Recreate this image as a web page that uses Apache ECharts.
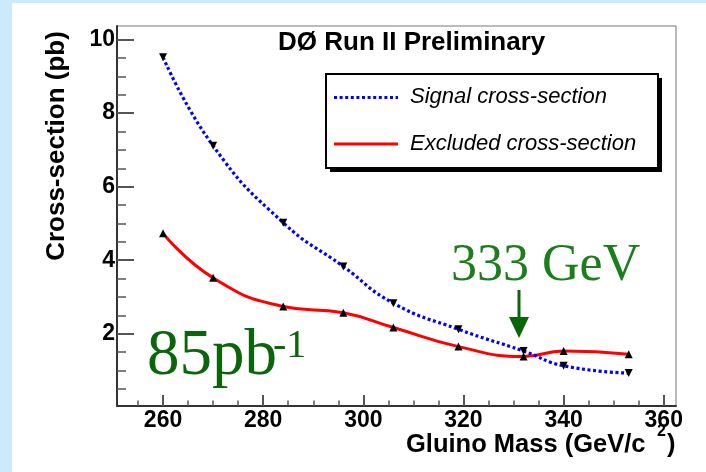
<!DOCTYPE html>
<html>
<head>
<meta charset="utf-8">
<script src="https://cdn.jsdelivr.net/npm/echarts@6/dist/echarts.min.js"></script>
<style>
  html, body { margin: 0; padding: 0; background: #ffffff; }
  #chart { width: 706px; height: 472px; }
</style>
</head>
<body>
<div id="chart"></div>
<script>
// Gluino mass points (GeV/c^2)
const massSignal = [260, 270, 284, 296, 306, 319, 332, 340, 353];
const massExcluded = [260, 270, 284, 296, 306, 319, 332, 340, 353];
// Cross-sections (pb)
const signalXsec = [9.52, 7.11, 5.02, 3.83, 2.83, 2.12, 1.53, 1.13, 0.93];
const excludedXsec = [4.73, 3.52, 2.74, 2.57, 2.17, 1.65, 1.38, 1.53, 1.44];

// Axis ticks
const xMajorTicks = [260, 280, 300, 320, 340, 360];
const xMinorTicks = [255, 265, 270, 275, 285, 290, 295, 305, 310, 315, 325, 330, 335, 345, 350, 355];
const yMajorTicks = [2, 4, 6, 8, 10];
const yMinorTicks = [0.5, 1, 1.5, 2.5, 3, 3.5, 4.5, 5, 5.5, 6.5, 7, 7.5, 8.5, 9, 9.5];

const seriesNames = ['Signal cross-section', 'Excluded cross-section'];
const titleText = 'DØ Run II Preliminary';
const yTitle = 'Cross-section (pb)';
const xTitle = 'Gluino Mass (GeV/c';
const lumiText = '85pb';
const lumiExp = '-1';
const limitText = '333 GeV';

const X_MIN = 250.8, X_MAX = 362.45;
const Y_MIN = 0.035, Y_MAX = 10.37;

const SANS = '"Liberation Sans", Arial, sans-serif';
const SERIF = '"Liberation Serif", "Times New Roman", serif';
const AXIS_COLOR = '#333';
const TICK_COLOR = '#555';

const chart = echarts.init(document.getElementById('chart'), null, { renderer: 'canvas' });

function zip(xs, ys) { return xs.map((x, i) => [x, ys[i]]); }

function xAxisDef(ticks, len, labels) {
  return {
    type: 'value', min: X_MIN, max: X_MAX, position: 'bottom',
    axisLine: { show: labels, lineStyle: { color: AXIS_COLOR, width: 2 } },
    axisTick: { show: true, inside: true, length: len, customValues: ticks,
                lineStyle: { color: TICK_COLOR, width: labels ? 2 : 1.5 } },
    axisLabel: labels ? { show: true, customValues: ticks, margin: 3,
                          fontFamily: SANS, fontWeight: 'bold', fontSize: 23, color: '#000' }
                      : { show: false },
    splitLine: { show: false }
  };
}
function yAxisDef(ticks, len, labels) {
  return {
    type: 'value', min: Y_MIN, max: Y_MAX, position: 'left',
    axisLine: { show: labels, lineStyle: { color: AXIS_COLOR, width: 2 } },
    axisTick: { show: true, inside: true, length: len, customValues: ticks,
                lineStyle: { color: TICK_COLOR, width: labels ? 2 : 1.5 } },
    axisLabel: labels ? { show: true, customValues: ticks, margin: 2,
                          fontFamily: SANS, fontWeight: 'bold', fontSize: 23, color: '#000' }
                      : { show: false },
    splitLine: { show: false }
  };
}

const option = {
  animation: false,
  backgroundColor: '#ffffff',
  grid: { left: 117, right: 30, top: 26, bottom: 66, show: true,
          borderColor: '#777', borderWidth: 1, backgroundColor: 'transparent' },
  xAxis: [xAxisDef(xMajorTicks, 11, true), xAxisDef(xMinorTicks, 5.5, false)],
  yAxis: [yAxisDef(yMajorTicks, 17, true), yAxisDef(yMinorTicks, 9, false)],
  series: [
    {
      name: seriesNames[0], type: 'line', xAxisIndex: 0, yAxisIndex: 0,
      data: zip(massSignal, signalXsec), smooth: 0.5,
      symbol: 'triangle', symbolSize: 8, symbolRotate: 180,
      itemStyle: { color: '#000' },
      lineStyle: { color: '#0000ff', width: 3.2, type: [3, 2.6] },
      z: 3
    },
    {
      name: seriesNames[1], type: 'line', xAxisIndex: 0, yAxisIndex: 0,
      data: zip(massExcluded, excludedXsec), smooth: 0.5,
      symbol: 'triangle', symbolSize: 8,
      itemStyle: { color: '#000' },
      lineStyle: { color: '#ff0000', width: 3 },
      z: 2
    }
  ],
  graphic: [
    // page edge strips
    { type: 'rect', shape: { x: 0, y: 0, width: 12, height: 472 }, style: { fill: '#cde9fc' }, silent: true },
    { type: 'rect', shape: { x: 0, y: 0, width: 706, height: 3 }, style: { fill: '#cde9fc' }, silent: true },
    // title
    { type: 'text', x: 278, y: 43,
      style: { text: titleText, fontFamily: SANS, fontWeight: 'bold', fontSize: 26,
               fill: '#000', align: 'left', verticalAlign: 'middle' } },
    // axis titles
    { type: 'text', x: 57, y: 146, rotation: Math.PI / 2,
      style: { text: yTitle, fontFamily: SANS, fontWeight: 'bold', fontSize: 26,
               fill: '#000', align: 'center', verticalAlign: 'middle' } },
    { type: 'text', x: 406, y: 445,
      style: { text: xTitle, fontFamily: SANS, fontWeight: 'bold', fontSize: 25.5,
               fill: '#000', align: 'left', verticalAlign: 'middle' } },
    { type: 'text', x: 657, y: 432,
      style: { text: '2', fontFamily: SANS, fontWeight: 'bold', fontSize: 16,
               fill: '#000', align: 'left', verticalAlign: 'middle' } },
    { type: 'text', x: 667, y: 445,
      style: { text: ')', fontFamily: SANS, fontWeight: 'bold', fontSize: 25.5,
               fill: '#000', align: 'left', verticalAlign: 'middle' } },
    // legend box with drop shadow
    { type: 'rect', shape: { x: 330, y: 78, width: 332, height: 94 }, style: { fill: '#000' }, z: 5 },
    { type: 'rect', shape: { x: 326, y: 74, width: 332, height: 94 },
      style: { fill: '#fff', stroke: '#000', lineWidth: 2 }, z: 6 },
    { type: 'line', shape: { x1: 334, y1: 97.5, x2: 398, y2: 97.5 },
      style: { stroke: '#0000ff', lineWidth: 3.2, lineDash: [3, 2.6] }, z: 7 },
    { type: 'line', shape: { x1: 334, y1: 144, x2: 398, y2: 144 },
      style: { stroke: '#ff0000', lineWidth: 3 }, z: 7 },
    { type: 'text', x: 410, y: 97, z: 7,
      style: { text: seriesNames[0], fontFamily: SANS, fontStyle: 'italic', fontSize: 22,
               fill: '#000', align: 'left', verticalAlign: 'middle' } },
    { type: 'text', x: 410, y: 144, z: 7,
      style: { text: seriesNames[1], fontFamily: SANS, fontStyle: 'italic', fontSize: 22,
               fill: '#000', align: 'left', verticalAlign: 'middle' } },
    // luminosity note
    { type: 'text', x: 147, y: 357, z: 7,
      style: { text: lumiText, fontFamily: SERIF, fontSize: 65,
               fill: '#0b650b', align: 'left', verticalAlign: 'middle' } },
    { type: 'text', x: 273, y: 346, z: 7,
      style: { text: lumiExp, fontFamily: SERIF, fontSize: 40,
               fill: '#0b650b', align: 'left', verticalAlign: 'middle' } },
    // mass limit note and arrow
    { type: 'text', x: 451, y: 266.5, z: 7,
      style: { text: limitText, fontFamily: SERIF, fontSize: 52,
               fill: '#1b7d1b', align: 'left', verticalAlign: 'middle' } },
    { type: 'line', shape: { x1: 519, y1: 290, x2: 519, y2: 319 },
      style: { stroke: '#0a640a', lineWidth: 3 }, z: 7 },
    { type: 'polygon', shape: { points: [[509, 317], [529, 317], [519, 338]] },
      style: { fill: '#0a640a' }, z: 7 }
  ]
};

chart.setOption(option);
</script>
</body>
</html>
